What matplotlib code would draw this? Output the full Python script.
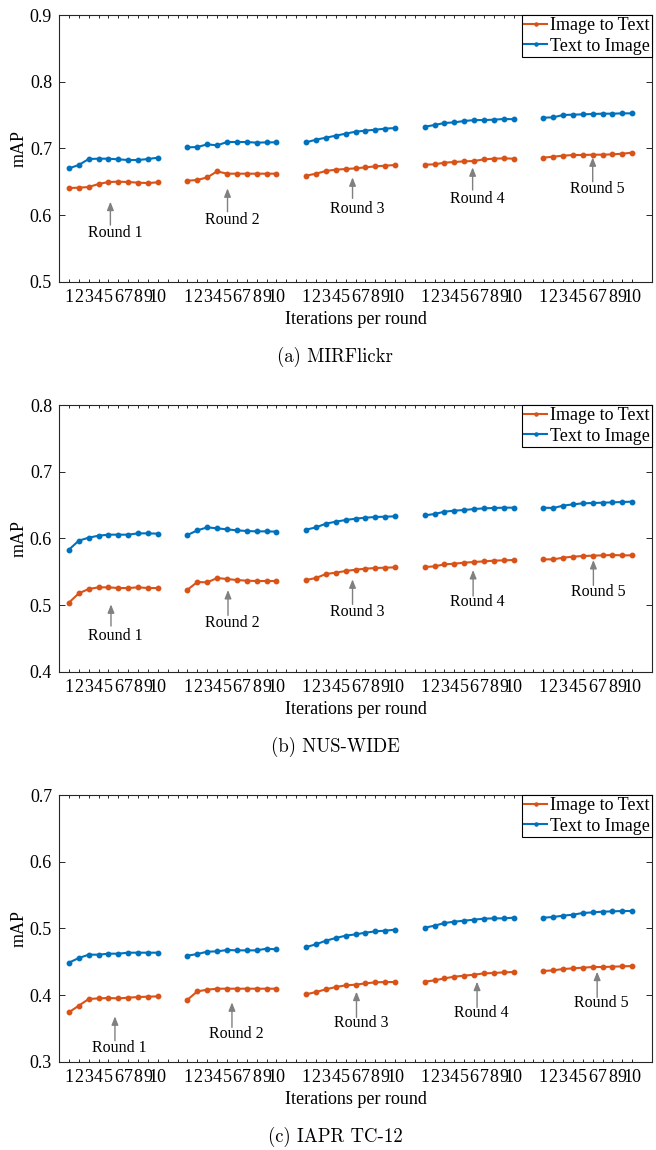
import matplotlib
matplotlib.use("Agg")
import matplotlib.pyplot as plt
import numpy as np

# mAP per iteration, 5 rounds x 10 iterations
mir_i2t = [
    [0.6405, 0.641, 0.642, 0.6465, 0.6495, 0.650, 0.6495, 0.6485, 0.648, 0.649],
    [0.6515, 0.6525, 0.6565, 0.6655, 0.662, 0.662, 0.662, 0.662, 0.662, 0.662],
    [0.659, 0.662, 0.666, 0.668, 0.669, 0.670, 0.6715, 0.673, 0.674, 0.675],
    [0.6755, 0.676, 0.6785, 0.6795, 0.6805, 0.681, 0.6835, 0.6845, 0.685, 0.6845],
    [0.686, 0.6875, 0.689, 0.690, 0.690, 0.6905, 0.6905, 0.691, 0.692, 0.6935],
]
mir_t2i = [
    [0.670, 0.675, 0.684, 0.6845, 0.6845, 0.6835, 0.6825, 0.6825, 0.684, 0.686],
    [0.7015, 0.702, 0.706, 0.7045, 0.7095, 0.7095, 0.7095, 0.7085, 0.709, 0.709],
    [0.709, 0.713, 0.716, 0.719, 0.722, 0.725, 0.7265, 0.728, 0.7295, 0.7305],
    [0.7324, 0.735, 0.738, 0.739, 0.741, 0.7424, 0.7424, 0.743, 0.744, 0.7437],
    [0.746, 0.7465, 0.750, 0.7505, 0.751, 0.7515, 0.752, 0.752, 0.7525, 0.7525],
]
nus_i2t = [
    [0.5035, 0.5175, 0.524, 0.5265, 0.5265, 0.5255, 0.5255, 0.5265, 0.5255, 0.5255],
    [0.523, 0.5345, 0.534, 0.5405, 0.539, 0.5375, 0.5365, 0.536, 0.536, 0.536],
    [0.5375, 0.5405, 0.5465, 0.5485, 0.551, 0.553, 0.5545, 0.5555, 0.556, 0.5565],
    [0.557, 0.558, 0.561, 0.562, 0.5635, 0.5645, 0.5655, 0.5665, 0.567, 0.5675],
    [0.5685, 0.5685, 0.571, 0.5725, 0.5735, 0.574, 0.5745, 0.575, 0.5745, 0.5745],
]
nus_t2i = [
    [0.583, 0.5965, 0.601, 0.604, 0.6055, 0.6055, 0.6055, 0.6075, 0.6075, 0.607],
    [0.605, 0.612, 0.6165, 0.615, 0.6135, 0.612, 0.611, 0.6105, 0.6105, 0.610],
    [0.613, 0.6165, 0.622, 0.625, 0.6275, 0.6295, 0.631, 0.632, 0.6325, 0.633],
    [0.6345, 0.6365, 0.640, 0.6415, 0.6425, 0.644, 0.645, 0.6455, 0.646, 0.646],
    [0.646, 0.6455, 0.649, 0.651, 0.6525, 0.653, 0.6535, 0.654, 0.6545, 0.655],
]
iapr_i2t = [
    [0.374, 0.384, 0.394, 0.395, 0.3955, 0.395, 0.396, 0.397, 0.3975, 0.398],
    [0.393, 0.4055, 0.408, 0.4095, 0.4095, 0.4095, 0.4095, 0.4095, 0.4095, 0.4095],
    [0.401, 0.4045, 0.4085, 0.412, 0.4145, 0.4155, 0.4175, 0.419, 0.4195, 0.4195],
    [0.420, 0.422, 0.425, 0.4275, 0.429, 0.4305, 0.4325, 0.433, 0.434, 0.4345],
    [0.436, 0.437, 0.439, 0.440, 0.441, 0.442, 0.442, 0.4425, 0.443, 0.4435],
]
iapr_t2i = [
    [0.4485, 0.4555, 0.4605, 0.4605, 0.462, 0.462, 0.4635, 0.4635, 0.4635, 0.4635],
    [0.459, 0.4615, 0.465, 0.4655, 0.4675, 0.467, 0.467, 0.467, 0.4695, 0.4685],
    [0.472, 0.476, 0.4815, 0.4855, 0.489, 0.491, 0.4935, 0.4955, 0.4965, 0.498],
    [0.501, 0.504, 0.508, 0.510, 0.5115, 0.513, 0.5145, 0.515, 0.515, 0.516],
    [0.516, 0.517, 0.519, 0.5205, 0.523, 0.524, 0.525, 0.5255, 0.526, 0.526],
]

iter_labels = [str(i) for i in range(1, 11)]
round_names = ["Round 1", "Round 2", "Round 3", "Round 4", "Round 5"]
captions = ["(a) MIRFlickr", "(b) NUS-WIDE", "(c) IAPR TC-12"]
ylims = [(0.5, 0.9), (0.4, 0.8), (0.3, 0.7)]

# arrow x, arrow head y, arrow tail y, label y for the round notes
notes_x = [[5.2, 17.05, 29.7, 41.85, 54.0],
           [5.26, 17.1, 29.7, 41.9, 54.07],
           [5.66, 17.5, 30.1, 42.3, 54.45]]
notes_head = [[0.62, 0.64, 0.6565, 0.6715, 0.6865],
              [0.501, 0.5225, 0.5385, 0.5525, 0.5675],
              [0.368, 0.389, 0.405, 0.42, 0.435]]
notes_tail = [[0.585, 0.605, 0.625, 0.6375, 0.65],
              [0.4685, 0.4845, 0.501, 0.5135, 0.5295],
              [0.3315, 0.3515, 0.3665, 0.3815, 0.3965]]
notes_text = [[0.573, 0.5925, 0.609, 0.624, 0.639],
              [0.4535, 0.4735, 0.4895, 0.5045, 0.5195],
              [0.32, 0.3415, 0.3575, 0.3725, 0.3875]]

ORANGE = "#D95319"
BLUE = "#0072BD"
AXC = "#262626"
FS = 13

plt.rcParams["font.family"] = "Liberation Serif"

fig = plt.figure(figsize=(6.56, 11.5), dpi=100)

panels = [(mir_i2t, mir_t2i), (nus_i2t, nus_t2i), (iapr_i2t, iapr_t2i)]
tops = [15, 405, 795]
H = 1150.0
W = 656.0

gap = 2
for p, (i2t, t2i) in enumerate(panels):
    top = tops[p]
    ax = fig.add_axes([59 / W, 1 - (top + 266.7) / H, 593 / W, 266.7 / H])

    ticks = []
    ticklabels = []
    for r in range(5):
        start = r * (10 + gap)
        xs = np.arange(1, 11) + start
        ticks += list(xs)
        ticklabels += iter_labels
        ax.plot(xs, i2t[r], color=ORANGE, lw=1.5, marker="o", ms=3.2,
                label="Image to Text" if r == 0 else None)
        ax.plot(xs, t2i[r], color=BLUE, lw=1.5, marker="o", ms=3.2,
                label="Text to Image" if r == 0 else None)
        if r < 4:
            ticks += [start + 11, start + 12]
            ticklabels += ["", ""]

    ax.set_xlim(0, 60)
    ax.set_ylim(*ylims[p])
    ax.set_xticks(ticks)
    ax.set_xticklabels(ticklabels)
    ax.set_yticks(np.arange(ylims[p][0], ylims[p][1] + 0.001, 0.1))
    ax.yaxis.set_major_formatter(plt.FuncFormatter(lambda v, _: f"{v:.1f}"))
    ax.tick_params(axis="x", direction="in", length=2.5, width=0.7,
                   top=True, pad=5, labelsize=FS, colors=AXC)
    ax.tick_params(axis="y", direction="in", length=4, width=0.7,
                   right=True, pad=5, labelsize=FS, colors=AXC)
    ax.tick_params(labelcolor="black")
    for s in ax.spines.values():
        s.set_color(AXC)
        s.set_linewidth(0.8)

    ax.set_ylabel("mAP", fontsize=FS)
    ax.yaxis.set_label_coords(-0.052, 0.5)
    ax.text(0.5, -0.14, "Iterations per round", transform=ax.transAxes,
            ha="center", va="center", fontsize=FS)

    for r in range(5):
        x = notes_x[p][r]
        ax.annotate("", xy=(x, notes_head[p][r]), xytext=(x, notes_tail[p][r]),
                    arrowprops=dict(arrowstyle="-|>,head_length=0.5,head_width=0.2",
                                    color="#808080", lw=1.0, shrinkA=0, shrinkB=0))
        ax.text(x + 0.45, notes_text[p][r], round_names[r], ha="center",
                va="center", fontsize=11.5)

    leg = ax.legend(loc="upper right", borderaxespad=0, fancybox=False,
                    edgecolor="black", framealpha=1, fontsize=FS,
                    handlelength=1.3, handletextpad=0.15, borderpad=0.12,
                    labelspacing=0.2, numpoints=1, markerscale=0.7)
    leg.get_frame().set_linewidth(0.8)

    fig.text(335 / W, 1 - (top + 342) / H, captions[p], ha="center",
             va="center", fontsize=13.5, family="cmr10")

fig.savefig("out.png", dpi=100)
